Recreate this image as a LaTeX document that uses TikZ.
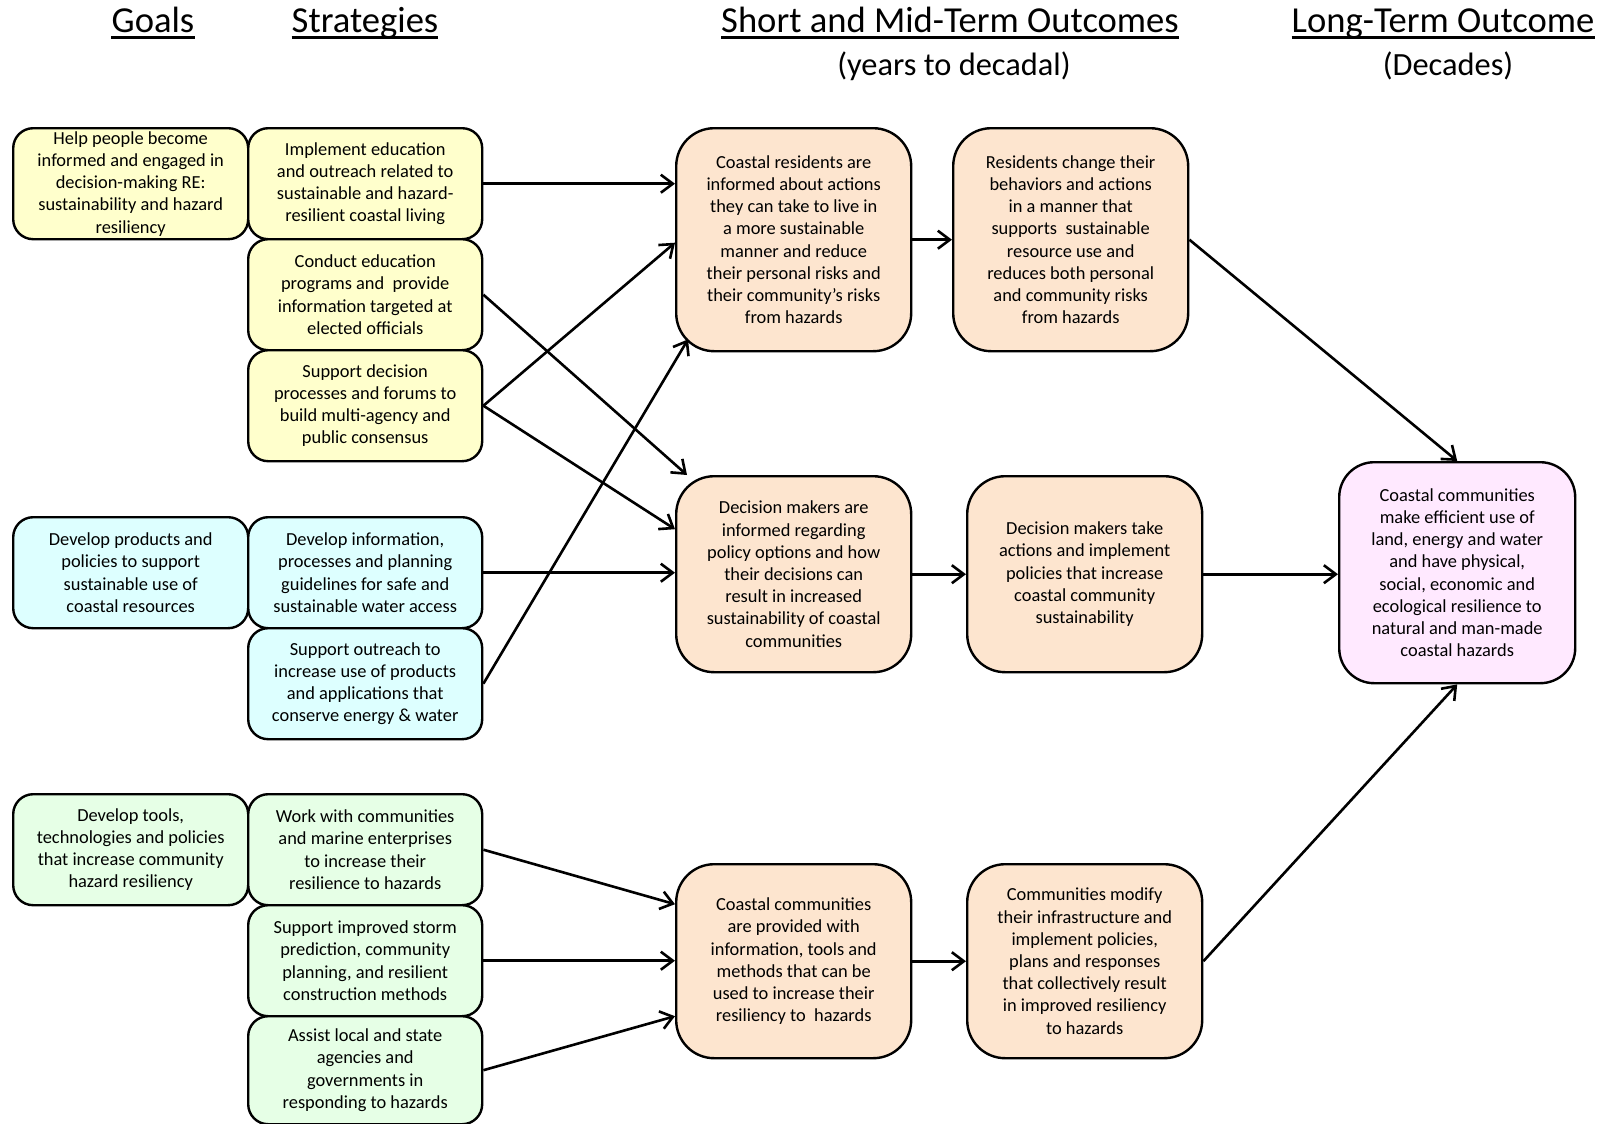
\documentclass[tikz,border=0pt]{standalone}
\usepackage{fontspec}
\setmainfont{Carlito}
\usetikzlibrary{arrows.meta,calc}
\definecolor{cyel}{RGB}{255,255,204}
\definecolor{ccya}{RGB}{221,255,255}
\definecolor{cgrn}{RGB}{230,255,230}
\definecolor{cpch}{RGB}{253,229,207}
\definecolor{cpnk}{RGB}{255,233,255}
\begin{document}
\begin{tikzpicture}[x=1pt,y=-1pt,
  box/.style={draw=black, line width=2.4pt, rounded corners=20pt, align=center, inner sep=0pt, anchor=north west, font=\fontsize{18.4}{22.2}\selectfont},
  sbox/.style={box, minimum width=235pt, minimum height=111pt},
  obox/.style={box, rounded corners=38pt, fill=cpch, minimum width=235pt},
  hdr/.style={anchor=base, inner sep=0pt, font=\fontsize{36.6}{43}\selectfont},
  hdrsub/.style={anchor=base, inner sep=0pt, font=\fontsize{32.4}{39}\selectfont},
  uline/.style={line width=2.2pt},
  arr/.style={line width=2.6pt, -{Straight Barb[length=12pt,width=18pt]}}
]
\useasboundingbox (0,0) rectangle (1604,1124);

% headers
\node[hdr] (hG) at (153,33) {Goals};
\node[hdr] (hS) at (365,33) {Strategies};
\node[hdr] (hO) at (950,33) {Short and Mid-Term Outcomes};
\node[hdrsub] (hO2) at (954,76) {(years to decadal)};
\node[hdr] (hL) at (1443,33) {Long-Term Outcome};
\node[hdrsub] (hL2) at (1448,76) {(Decades)};
\foreach \h in {hG,hS,hO,hL}{
  \draw[uline] ($(\h.base west)+(0,4.5)$) -- ($(\h.base east)+(0,4.5)$);
}

% goals and strategies
\node[sbox, fill=cyel] (G1) at (12,127) {Help people become\\informed and engaged in\\decision-making RE:\\sustainability and hazard\\resiliency};
\node[sbox, fill=cyel, minimum width=234pt] (S1) at (247,127) {Implement education\\and outreach related to\\sustainable and hazard-\\resilient coastal living};
\node[sbox, fill=cyel, minimum width=234pt] (S2) at (247,238) {Conduct education\\programs and\ \ provide\\information targeted at\\elected officials};
\node[sbox, fill=cyel, minimum width=234pt] (S3) at (247,349) {Support decision\\processes and forums to\\build multi-agency and\\public consensus};

\node[sbox, fill=ccya] (G2) at (12,516) {Develop products and\\policies to support\\sustainable use of\\coastal resources};
\node[sbox, fill=ccya, minimum width=234pt] (S4) at (247,516) {Develop information,\\processes and planning\\guidelines for safe and\\sustainable water access};
\node[sbox, fill=ccya, minimum width=234pt] (S5) at (247,627) {Support outreach to\\increase use of products\\and applications that\\conserve energy \& water};

\node[sbox, fill=cgrn] (G3) at (12,793) {Develop tools,\\technologies and policies\\that increase community\\hazard resiliency};
\node[sbox, fill=cgrn, minimum width=234pt] (S6) at (247,793) {Work with communities\\and marine enterprises\\to increase their\\resilience to hazards};
\node[sbox, fill=cgrn, minimum width=234pt] (S7) at (247,904) {Support improved storm\\prediction, community\\planning, and resilient\\construction methods};
\node[sbox, fill=cgrn, minimum width=234pt, minimum height=108pt] (S8) at (247,1015) {Assist local and state\\agencies and\\governments in\\responding to hazards};

% outcomes
\node[obox, minimum height=223pt] (O1) at (675,127) {Coastal residents are\\informed about actions\\they can take to live in\\a more sustainable\\manner and reduce\\their personal risks and\\their community’s risks\\from hazards};
\node[obox, minimum height=223pt] (O4) at (952,127) {Residents change their\\behaviors and actions\\in a manner that\\supports\ \ sustainable\\resource use and\\reduces both personal\\and community risks\\from hazards};
\node[obox, minimum height=196pt] (O2) at (675,475) {Decision makers are\\informed regarding\\policy options and how\\their decisions can\\result in increased\\sustainability of coastal\\communities};
\node[obox, minimum height=196pt] (O5) at (966,475) {Decision makers take\\actions and implement\\policies that increase\\coastal community\\sustainability};
\node[obox, minimum height=194pt] (O3) at (675,863) {Coastal communities\\are provided with\\information, tools and\\methods that can be\\used to increase their\\resiliency to\ \ hazards};
\node[obox, minimum height=194pt] (O6) at (966,863) {Communities modify\\their infrastructure and\\implement policies,\\plans and responses\\that collectively result\\in improved resiliency\\to hazards};

\node[box, fill=cpnk, rounded corners=35pt, minimum width=236pt, minimum height=221pt] (L) at (1338,461) {Coastal communities\\make efficient use of\\land, energy and water\\and have physical,\\social, economic and\\ecological resilience to\\natural and man-made\\coastal hazards};

% connectors
\draw[arr] (S1.east) -- (S1.east -| O1.west);
\draw[arr] (S2.east) -- ($(O2.north west)+(12,0)$);
\draw[arr] (S3.east) -- ($(O1.west)+(0,3)$);
\draw[arr] (S3.east) -- ($(O2.west)+(0,-45)$);
\draw[arr] (S4.east) -- (S4.east -| O2.west);
\draw[arr] (S5.east) -- ($(O1.south west)+(13,-13)$);
\draw[arr] (S6.east) -- ($(O3.west)+(0,-57)$);
\draw[arr] (S7.east) -- (S7.east -| O3.west);
\draw[arr] (S8.east) -- ($(O3.west)+(0,55)$);
\draw[arr] (O1.east) -- (O4.west);
\draw[arr] (O2.east) -- (O5.west);
\draw[arr] (O3.east) -- (O6.west);
\draw[arr] (O4.east) -- (L.north);
\draw[arr] (O5.east) -- (O5.east -| L.west);
\draw[arr] (O6.east) -- (L.south);
\end{tikzpicture}
\end{document}
